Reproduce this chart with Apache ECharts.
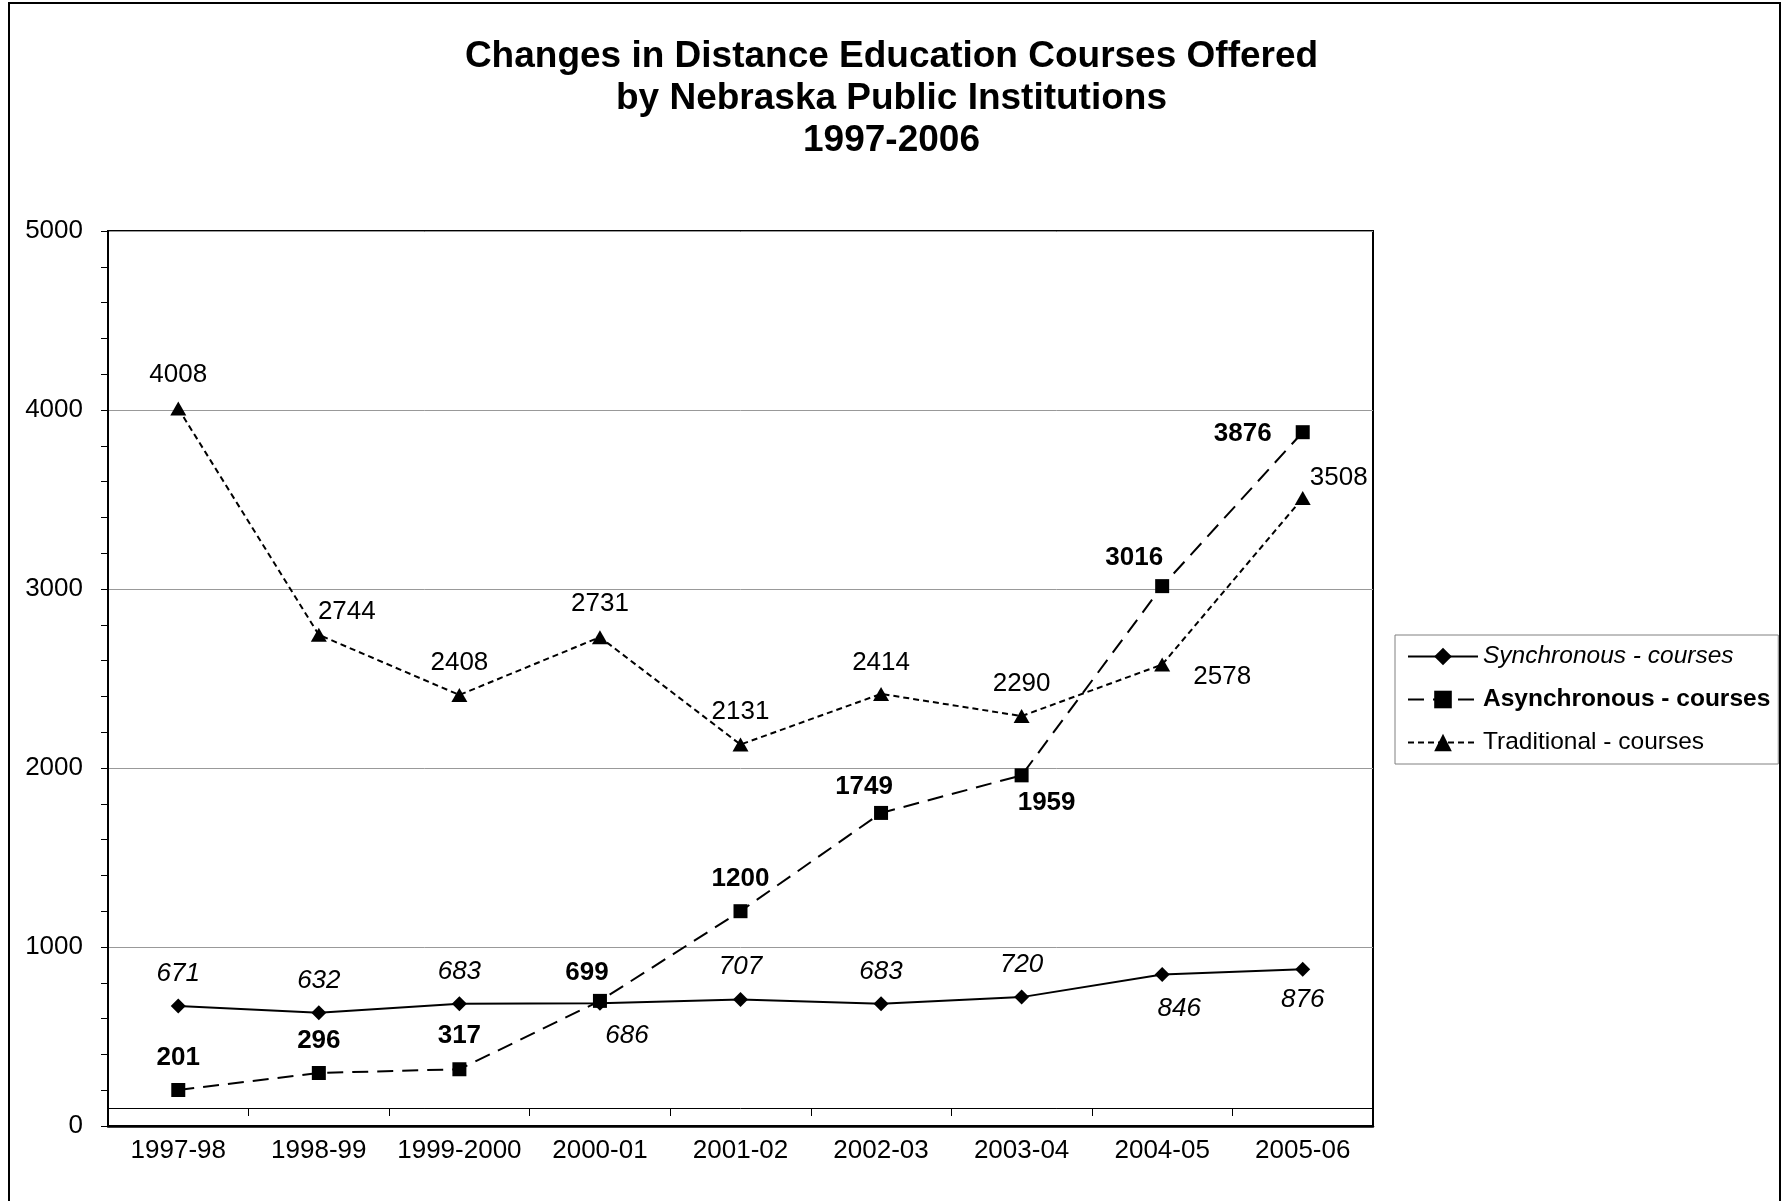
<!DOCTYPE html>
<html>
<head>
<meta charset="utf-8">
<script src="https://cdn.jsdelivr.net/npm/echarts@6/dist/echarts.min.js"></script>
<style>
html,body{margin:0;padding:0;background:#fff;}
#chart{width:1783px;height:1201px;}
</style>
</head>
<body>
<div id="chart"></div>
<script>
// ---- data ----
const categories = ['1997-98','1998-99','1999-2000','2000-01','2001-02','2002-03','2003-04','2004-05','2005-06'];
const synchronous = [671, 632, 683, 686, 707, 683, 720, 846, 876];
const asynchronous = [201, 296, 317, 699, 1200, 1749, 1959, 3016, 3876];
const traditional = [4008, 2744, 2408, 2731, 2131, 2414, 2290, 2578, 3508];
const seriesNames = ['Synchronous - courses', 'Asynchronous - courses', 'Traditional - courses'];
const titleText = 'Changes in Distance Education Courses Offered\nby Nebraska Public Institutions\n1997-2006';

// label placement (offsets of value labels from their points, in px)
const syncLabelOffsets = [[0,-32],[0,-32],[0,-32],[27,33],[0,-33],[0,-32],[0,-32],[17,34],[0,31]];
const asyncLabelOffsets = [[0,-32],[0,-32],[0,-33],[-13,-28],[0,-32],[-17,-26],[25,27],[-28,-28],[-60,2]];
const tradLabelOffsets = [[0,-34],[28,-23],[0,-32],[0,-33],[0,-33],[0,-31],[0,-32],[60,12],[36,-20]];

const FONT = '"Liberation Sans", Arial, sans-serif';

function withLabels(values, offsets, style) {
  return values.map((v, i) => ({
    value: v,
    label: Object.assign({
      show: true, position: 'inside', offset: offsets[i],
      align: 'center', verticalAlign: 'middle',
      color: '#000', fontSize: 26, fontFamily: FONT
    }, style)
  }));
}

const chart = echarts.init(document.getElementById('chart'), null, {renderer: 'canvas'});
chart.setOption({
  backgroundColor: '#fff',
  animation: false,
  graphic: [{
    type: 'rect', z: 100, silent: true,
    shape: {x: 9, y: 3, width: 1771, height: 1210},
    style: {fill: 'none', stroke: '#000', lineWidth: 2}
  }],
  title: {
    text: titleText,
    left: 'center', top: 31,
    textStyle: {fontSize: 37, fontWeight: 'bold', fontFamily: FONT, color: '#000', lineHeight: 42}
  },
  legend: {
    orient: 'vertical',
    left: 1395, top: 635,
    padding: [9, 8, 9, 12],
    itemGap: 18,
    itemWidth: 70, itemHeight: 22,
    borderColor: '#808080', borderWidth: 1,
    textStyle: {fontSize: 24.5, fontFamily: FONT, color: '#000'},
    data: [
      {name: seriesNames[0], textStyle: {fontStyle: 'italic'}},
      {name: seriesNames[1], textStyle: {fontWeight: 'bold'}},
      {name: seriesNames[2]}
    ]
  },
  grid: {
    left: 108, right: 410, top: 231, bottom: 75,
    show: true, borderColor: '#000', borderWidth: 2, backgroundColor: 'transparent'
  },
  xAxis: [{
    type: 'category', data: categories, boundaryGap: true,
    axisLine: {lineStyle: {color: '#000', width: 2.5}},
    axisTick: {show: false},
    axisLabel: {color: '#000', fontSize: 26, fontFamily: FONT, margin: 12, interval: 0}
  }, {
    type: 'category', data: categories, boundaryGap: true,
    position: 'bottom', offset: -18,
    axisLine: {show: true, lineStyle: {color: '#000', width: 1}},
    axisTick: {show: true, inside: false, length: 8, lineStyle: {color: '#000', width: 1}},
    axisLabel: {show: false},
    splitLine: {show: false}
  }],
  yAxis: {
    type: 'value', min: 0, max: 5000, interval: 1000,
    axisLine: {show: true, lineStyle: {color: '#000', width: 2}},
    axisTick: {show: true, length: 7, lineStyle: {color: '#000', width: 1}},
    minorTick: {show: true, splitNumber: 5, length: 7, lineStyle: {color: '#000', width: 1}},
    minorSplitLine: {show: false},
    splitLine: {show: true, lineStyle: {color: '#999', width: 1}},
    axisLabel: {color: '#000', fontSize: 26, fontFamily: FONT, margin: 25, formatter: v => String(v)}
  },
  series: [{
    name: seriesNames[0], type: 'line',
    data: withLabels(synchronous, syncLabelOffsets, {fontStyle: 'italic'}),
    symbol: 'diamond', symbolSize: 15,
    lineStyle: {color: '#000', width: 2, type: 'solid'},
    itemStyle: {color: '#000'},
    z: 3
  }, {
    name: seriesNames[1], type: 'line',
    data: withLabels(asynchronous, asyncLabelOffsets, {fontWeight: 'bold'}),
    symbol: 'rect', symbolSize: 14,
    lineStyle: {color: '#000', width: 2, type: [16, 9]},
    itemStyle: {color: '#000'},
    z: 4
  }, {
    name: seriesNames[2], type: 'line',
    data: withLabels(traditional, tradLabelOffsets, {}),
    symbol: 'triangle', symbolSize: [16, 14],
    lineStyle: {color: '#000', width: 2, type: [6, 4]},
    itemStyle: {color: '#000'},
    z: 2
  }]
});
</script>
</body>
</html>
